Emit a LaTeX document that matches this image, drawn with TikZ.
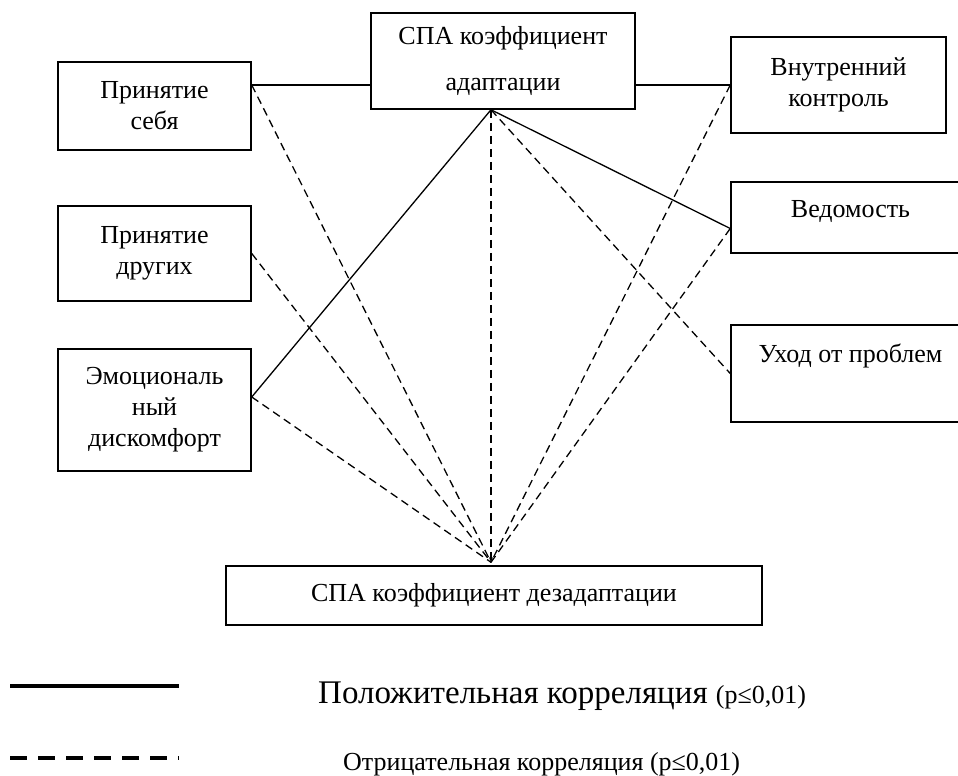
\documentclass[tikz,border=0pt]{standalone}
\usepackage{fontspec}
\setmainfont{Liberation Serif}
\usetikzlibrary{arrows.meta}
\newcommand{\boxfont}{\fontsize{26}{31}\selectfont}

\begin{document}
\begin{tikzpicture}[x=1pt,y=-1pt,
    box/.style={draw, line width=1.5pt, inner sep=0pt, align=center, font=\boxfont},
    posline/.style={line width=1.3pt},
    negline/.style={line width=1.3pt, dash pattern=on 8pt off 5pt}]
        \useasboundingbox (0,0) rectangle (958,776);
        \clip (0,0) rectangle (958,776);

        % top and bottom
        \node[box, minimum width=264, minimum height=96] (adapt) at (503,61)
        {СПА коэффициент\\[15pt]адаптации};
        \node[box, minimum width=536, minimum height=59] (dis) at (494,595.5)
        {СПА коэффициент дезадаптации};

        % left column
        \node[box, minimum width=193, minimum height=88] (self) at (154.5,106) {Принятие\\себя};
        \node[box, minimum width=193, minimum height=95] (others) at (154.5,253.5) {Принятие\\других};
        \node[box, minimum width=193, minimum height=122] (emo) at (154.5,410)
        {Эмоциональ\\ный\\дискомфорт};

        % right column
        \node[box, minimum width=215, minimum height=96] (inctrl) at (838.5,85) {Внутренний\\контроль};
        \node[box, minimum width=239, minimum height=71, text depth=18pt] (lead) at (850.5,217.5) {Ведомость};
        \node[box, minimum width=239, minimum height=97, text depth=41pt] (escape) at (850.5,373.5) {Уход от проблем};

        \coordinate (hubA) at ([xshift=-12pt]adapt.south);
        \coordinate (hubD) at ([xshift=-3pt,yshift=3pt]dis.north);

        \draw[posline] (self.east |- inctrl.west) -- (adapt.west |- inctrl.west);
        \draw[posline] (adapt.east |- inctrl.west) -- (inctrl.west);
        \draw[posline] ([yshift=13pt]emo.east) -- (hubA);
        \draw[posline] (hubA) -- ([yshift=-11pt]lead.west);

        \draw[negline] (self.east |- inctrl.west) -- (hubD);
        \draw[negline] (others.east) -- (hubD);
        \draw[negline] ([yshift=13pt]emo.east) -- (hubD);
        \draw[negline] (inctrl.west) -- (hubD);
        \draw[negline] ([yshift=-11pt]lead.west) -- (hubD);
        \draw[negline] (hubA) -- (escape.west);
        \draw[negline, -{Stealth[length=5pt,width=4pt]}] (hubA) -- (hubD);

        % legend
        \coordinate (posA) at (10,686); \coordinate (posB) at (179,686);
        \coordinate (negA) at (10,758); \coordinate (negB) at (179,758);
        \draw[line width=4.5pt] (posA) -- (posB);
        \draw[line width=4pt, dash pattern=on 17pt off 11pt] (negA) -- (negB);
        \node[anchor=base west, inner sep=0pt] (posL) at (318,703)
        {\fontsize{33}{38}\selectfont Положительная корреляция \fontsize{26}{30}\selectfont(p≤0,01)};
        \node[anchor=base west, inner sep=0pt] (negL) at (343,770)
        {\fontsize{26}{30}\selectfont Отрицательная корреляция (p≤0,01)};
      \end{tikzpicture}
\end{document}
